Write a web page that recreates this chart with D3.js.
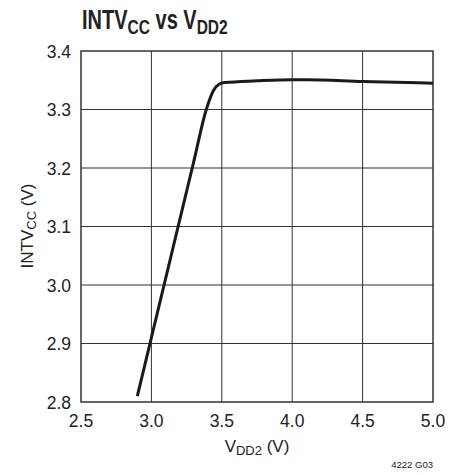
<!DOCTYPE html>
<html lang="en">
<head>
    <meta charset="UTF-8">
    <title>INTVcc vs VDD2</title>
    <style>
        body {
            margin: 0;
            background: #fff;
        }
        text {
            font-family: "Liberation Sans", Arial, sans-serif;
            fill: #222;
        }
    </style>
    <script src="https://d3js.org/d3.v7.min.js"></script>
</head>
<body>
    <svg width="461" height="475"></svg>
    <script>
        // curve
        const vdd2 = [2.9, 3.1, 3.3, 3.39, 3.44, 3.48, 3.52, 3.75, 4.0, 4.1, 4.5, 5.0];
        const intvcc = [2.81, 3.01, 3.21, 3.30, 3.332, 3.343, 3.346, 3.349, 3.351, 3.351, 3.348, 3.345];

        const xTicks = [2.5, 3.0, 3.5, 4.0, 4.5, 5.0];
        const yTicks = [2.8, 2.9, 3.0, 3.1, 3.2, 3.3, 3.4];

        const plotL = 81, plotR = 433, plotT = 51, plotB = 402;

        const svg = d3.select("svg");

        const x = d3.scaleLinear().domain([2.5, 5.0]).range([plotL, plotR]);
        const y = d3.scaleLinear().domain([2.8, 3.4]).range([plotB, plotT]);

        // grid
        svg.append("g")
            .selectAll("line")
            .data(xTicks.slice(1, -1))
            .join("line")
            .attr("x1", d => x(d)).attr("x2", d => x(d))
            .attr("y1", plotT).attr("y2", plotB)
            .attr("stroke", "#333").attr("stroke-width", 1);

        svg.append("g")
            .selectAll("line")
            .data(yTicks.slice(1, -1))
            .join("line")
            .attr("x1", plotL).attr("x2", plotR)
            .attr("y1", d => y(d)).attr("y2", d => y(d))
            .attr("stroke", "#333").attr("stroke-width", 1);

        svg.append("rect")
            .attr("x", plotL).attr("y", plotT)
            .attr("width", plotR - plotL).attr("height", plotB - plotT)
            .attr("fill", "none").attr("stroke", "#333").attr("stroke-width", 1.5);

        // tick labels
        svg.append("g")
            .selectAll("text")
            .data(xTicks)
            .join("text")
            .attr("x", d => x(d)).attr("y", 427)
            .attr("text-anchor", "middle")
            .attr("font-size", 17.5)
            .text(d => d.toFixed(1));

        svg.append("g")
            .selectAll("text")
            .data(yTicks)
            .join("text")
            .attr("x", 71).attr("y", d => y(d) + 6.5)
            .attr("text-anchor", "end")
            .attr("font-size", 17.5)
            .text(d => d.toFixed(1));

        // the curve
        const pts = vdd2.map((v, i) => [v, intvcc[i]]);
        svg.append("path")
            .datum(pts)
            .attr("fill", "none")
            .attr("stroke", "#1a1a1a")
            .attr("stroke-width", 3)
            .attr("d", d3.line().x(d => x(d[0])).y(d => y(d[1])).curve(d3.curveMonotoneX));

        // title, condensed by a horizontal scale
        const title = svg.append("text")
            .attr("transform", "translate(82,29) scale(0.74,1)")
            .attr("font-size", 27).attr("font-weight", "bold");
        title.append("tspan").text("INTV");
        title.append("tspan").attr("font-size", 21).attr("dy", 5).text("CC");
        title.append("tspan").attr("dy", -5).text(" vs V");
        title.append("tspan").attr("font-size", 21).attr("dy", 5).text("DD2");

        // axis labels
        const xl = svg.append("text")
            .attr("x", 257).attr("y", 452)
            .attr("text-anchor", "middle")
            .attr("font-size", 17);
        xl.append("tspan").text("V");
        xl.append("tspan").attr("font-size", 13).attr("dy", 3).text("DD2");
        xl.append("tspan").attr("dy", -3).text(" (V)");

        const yl = svg.append("text")
            .attr("transform", "translate(33,226) rotate(-90)")
            .attr("text-anchor", "middle")
            .attr("font-size", 17);
        yl.append("tspan").text("INTV");
        yl.append("tspan").attr("font-size", 13).attr("dy", 3).text("CC");
        yl.append("tspan").attr("dy", -3).text(" (V)");

        svg.append("text")
            .attr("x", 433).attr("y", 468)
            .attr("text-anchor", "end")
            .attr("font-size", 9.5)
            .text("4222 G03");
    </script>
</body>
</html>
